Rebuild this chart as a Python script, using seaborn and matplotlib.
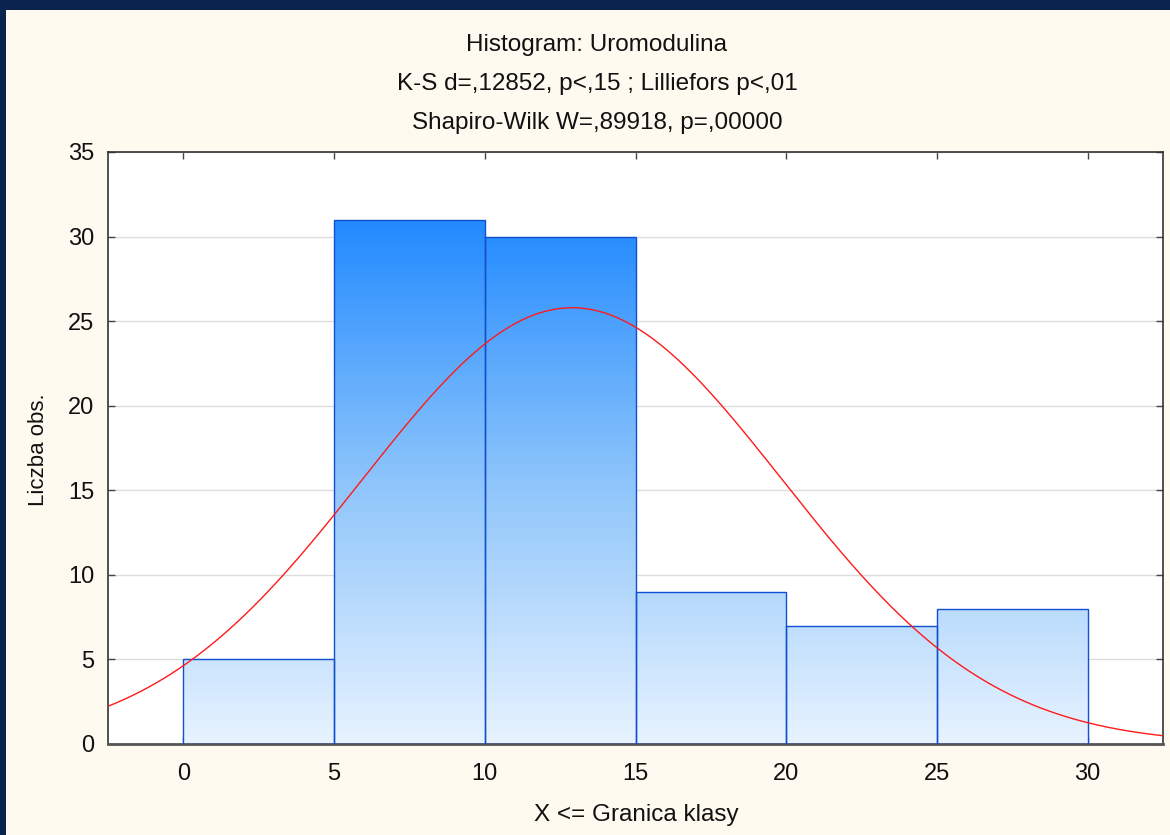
import numpy as np
import pandas as pd
import matplotlib
matplotlib.use("Agg")
import matplotlib.pyplot as plt
import seaborn as sns
from matplotlib.colors import LinearSegmentedColormap
from matplotlib.patches import Rectangle

# ---- data ----
bin_edges = [0, 5, 10, 15, 20, 25, 30]
counts = [5, 31, 30, 9, 7, 8]
fit_mean = 12.9
fit_sd = 6.96
x_ticks = [0, 5, 10, 15, 20, 25, 30]
y_ticks = [0, 5, 10, 15, 20, 25, 30, 35]
title_lines = ["Histogram: Uromodulina",
               "K-S d=,12852, p<,15 ; Lilliefors p<,01",
               "Shapiro-Wilk W=,89918, p=,00000"]
x_label = "X <= Granica klasy"
y_label = "Liczba obs."

sns.set_theme(style="white")
plt.rcParams['font.family'] = ['Liberation Sans', 'DejaVu Sans']

cream = "#FFFAEF"
navy = "#0A2450"

fig = plt.figure(figsize=(11.7, 8.35), dpi=100, facecolor=cream)
ax = fig.add_axes([108/1170, 91/835, (1163-108)/1170, (744-152)/835])
ax.set_facecolor("white")

centers = [(bin_edges[i] + bin_edges[i+1]) / 2 for i in range(len(counts))]
df = pd.DataFrame({"x": centers, "w": counts})
sns.histplot(data=df, x="x", weights="w", bins=bin_edges, ax=ax,
             stat="count", element="bars", fill=True,
             color="#1E88FF", edgecolor="#1050D0", linewidth=1.0, alpha=1)

ax.set_xlim(-2.5, 32.5)
ax.set_ylim(0, 35)

# gradient fill (by y value)
cmap = LinearSegmentedColormap.from_list("g", ["#E8F3FF", "#8CC4FB", "#1E88FF"])
ymax_grad = 31.5
grad = np.linspace(0, 1, 256).reshape(-1, 1)
for p in list(ax.patches):
    x0 = p.get_x(); w = p.get_width(); h = p.get_height()
    p.set_facecolor("none")
    p.set_zorder(3)
    im = ax.imshow(grad, extent=[x0, x0 + w, 0, ymax_grad], origin="lower",
                   cmap=cmap, aspect="auto", zorder=2, interpolation="bicubic")
    im.set_clip_path(p)
ax.set_xlim(-2.5, 32.5)
ax.set_ylim(0, 35)

# normal fit curve
xs = np.linspace(-2.5, 32.5, 400)
binw = bin_edges[1] - bin_edges[0]
ys = sum(counts) * binw * np.exp(-0.5 * ((xs - fit_mean) / fit_sd) ** 2) / (fit_sd * np.sqrt(2 * np.pi))
sns.lineplot(x=xs, y=ys, ax=ax, color="#FF1A1A", linewidth=1.0, zorder=4)

ax.set_xticks(x_ticks)
ax.set_yticks(y_ticks)
ax.set_xticklabels([str(t) for t in x_ticks])
ax.set_yticklabels([str(t) for t in y_ticks])
ax.yaxis.grid(True, color="#DDDDDD", linewidth=1.0, zorder=0)
ax.set_axisbelow(True)
ax.tick_params(axis="both", which="both", direction="in", length=5, width=1,
               color="#444444", labelsize=17, labelcolor="#111111",
               top=True, right=True, bottom=True, left=True)
ax.tick_params(axis="x", pad=14)
ax.tick_params(axis="y", pad=10)
for s in ["top", "left", "right"]:
    ax.spines[s].set_color("#333333")
    ax.spines[s].set_linewidth(1.2)
ax.spines["bottom"].set_color("#555555")
ax.spines["bottom"].set_linewidth(2.0)
ax.set_xlabel("")
ax.set_ylabel("")

# titles
for i, line in enumerate(title_lines):
    fig.text(597/1170, 1 - (45 + 39*i)/835, line, ha="center", va="center",
             fontsize=17.5, color="#111111")
fig.text(636/1170, 1 - 815/835, x_label, ha="center", va="center", fontsize=17.5, color="#111111")
fig.text(38/1170, 1 - 450/835, y_label, ha="center", va="center", rotation=90,
         fontsize=16, color="#111111")

# navy frame (top and left)
fig.patches.append(Rectangle((0, 1 - 10/835), 1, 10/835, transform=fig.transFigure,
                             facecolor=navy, edgecolor="none", zorder=10))
fig.patches.append(Rectangle((0, 0), 6/1170, 1, transform=fig.transFigure,
                             facecolor=navy, edgecolor="none", zorder=10))

fig.savefig("out.png", dpi=100, facecolor=cream)
